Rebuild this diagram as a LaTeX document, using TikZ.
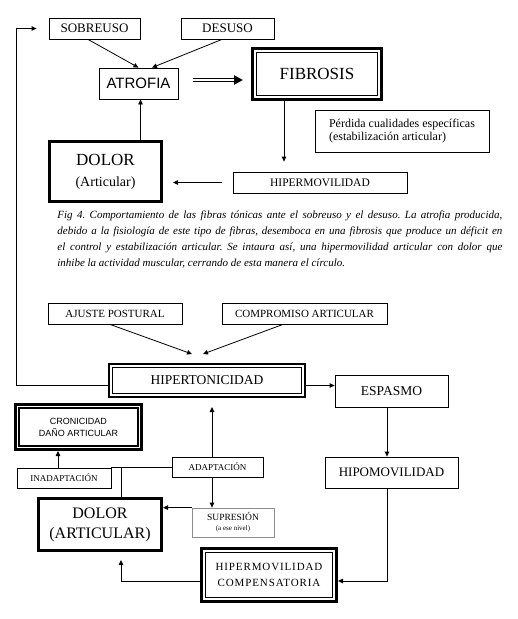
\documentclass[tikz,border=0pt]{standalone}
\usepackage{fontspec}
\setmainfont{Liberation Serif}
\setsansfont{Liberation Sans}
\newfontfamily\spacedfont[LetterSpace=8]{Liberation Serif}
\usetikzlibrary{arrows.meta}
\newcommand\sz[2]{\fontsize{#1}{#2}\selectfont}

\begin{document}
\begin{tikzpicture}[x=1pt,y=-1pt,>={Triangle[length=5pt,width=4.5pt]},
  line width=0.8pt,
  box/.style={draw,line width=0.8pt,inner sep=0pt,align=center},
  heavy/.style={box,line width=3pt},
  greybox/.style={box,draw=black!45}]

  \useasboundingbox (0,0) rectangle (518,619);

  % upper cycle
  \node[box,minimum width=91pt,minimum height=21pt,font=\sz{13}{15}] (sob) at (94.5,28.5) {SOBREUSO};
  \node[box,minimum width=93pt,minimum height=21pt,font=\sz{13}{15}] (des) at (227.5,28.5) {DESUSO};
  \node[box,minimum width=79pt,minimum height=31pt,font=\sffamily\sz{15}{17}] (atr) at (138.5,83.5) {ATROFIA};
  \node[heavy,minimum width=129pt,minimum height=51pt,font=\sz{17}{19}] (fib) at (317,74) {FIBROSIS};
  \node[box,minimum width=174pt,minimum height=42pt,align=left,font=\sz{12}{13.5}] (perd) at (402,131)
    {Pérdida cualidades específicas\\(estabilización articular)};
  \node[heavy,minimum width=112pt,minimum height=60pt,font=\sz{17}{21}] (dolA) at (105.5,171.5)
    {DOLOR\\{\sz{14}{21}(Articular)}};
  \node[box,minimum width=174pt,minimum height=21pt,font=\sz{11.5}{13}] (hipm) at (320,182.5) {HIPERMOVILIDAD};

  % caption
  \node[anchor=north west,inner sep=0pt,text width=445pt,align=justify,font=\frenchspacing\itshape\sz{11}{16}] (cap) at (57,210)
    {Fig 4. Comportamiento de las fibras tónicas ante el sobreuso y el desuso. La atrofia producida,\linebreak
     debido a la fisiología de este tipo de fibras, desemboca en una fibrosis que produce un déficit en\linebreak
     el control y estabilización articular. Se intaura así, una hipermovilidad articular con dolor que\linebreak
     inhibe la actividad muscular, cerrando de esta manera el círculo.};

  % lower cycle
  \node[box,minimum width=134pt,minimum height=21pt,font=\sz{11}{13}] (ajus) at (115,313.5) {AJUSTE POSTURAL};
  \node[box,minimum width=165pt,minimum height=21pt,font=\sz{11}{13}] (comp) at (304.5,313.5) {COMPROMISO ARTICULAR};
  \node[heavy,line width=2pt,minimum width=196pt,minimum height=33pt,font=\sz{13.5}{15}] (hipt) at (207,380.5) {HIPERTONICIDAD};
  \node[box,minimum width=113pt,minimum height=32pt,font=\sz{13.5}{15}] (esp) at (391.5,391) {ESPASMO};
  \node[heavy,minimum width=126pt,minimum height=45pt,font=\sffamily\sz{9}{12}] (cron) at (78.5,427)
    {CRONICIDAD\\DAÑO ARTICULAR};
  \node[box,minimum width=94pt,minimum height=20pt,font=\sz{9}{11}] (inad) at (64,478) {INADAPTACIÓN};
  \node[box,minimum width=91pt,minimum height=20pt,font=\sz{9}{11}] (adap) at (217.5,467) {ADAPTACIÓN};
  \node[greybox,minimum width=82pt,minimum height=29pt,font=\sz{9.5}{10}] (sup) at (233,522.5)
    {SUPRESIÓN\\{\sz{7}{10}(a ese nivel)}};
  \node[heavy,minimum width=123pt,minimum height=52pt,font=\sz{16}{20}] (dolB) at (100,524.5) {DOLOR\\(ARTICULAR)};
  \node[box,minimum width=133pt,minimum height=31pt,font=\sz{13}{15}] (hipo) at (391.5,472.5) {HIPOMOVILIDAD};
  \node[heavy,minimum width=135pt,minimum height=53pt,font=\spacedfont\sz{11}{16}] (hipc) at (269,575)
    {HIPERMOVILIDAD\\COMPENSATORIA};

  % inner lines of the framed boxes
  \foreach \n/\gap/\w in {fib/5.4/0.8,hipt/4.4/0.8,cron/5.2/1.6,hipc/5.4/0.8}
    \draw[line width=\w pt] ([shift={(\gap pt,-\gap pt)}]\n.north west) rectangle ([shift={(-\gap pt,\gap pt)}]\n.south east);

  % upper connectors
  \draw[->] ([xshift=-6.5pt]sob.south) -- (atr.north);
  \draw[->] ([xshift=-5.5pt]des.south) -- ([xshift=13.5pt]atr.north);
  % double arrow: thick line hollowed by a white one
  \draw[line width=3.4pt,-{Triangle[length=9pt,width=9pt]}]
    ([xshift=15pt,yshift=3.5pt]atr.east) -- ([xshift=-8pt,yshift=3.5pt]atr.east -| fib.west);
  \draw[white,line width=1.8pt,shorten >=9pt]
    ([xshift=14pt,yshift=3.5pt]atr.east) -- ([xshift=-8pt,yshift=3.5pt]atr.east -| fib.west);
  \draw[->] ([xshift=-33pt]fib.south) -- ([xshift=-33pt,yshift=10pt]fib.south |- hipm.north);
  \draw[->] ([xshift=-11pt]hipm.west) -- ([xshift=10pt]hipm.west -| dolA.east);
  \draw[->] ([xshift=2pt]atr.south |- dolA.north) -- ([xshift=2pt]atr.south);
  % back to the top
  \draw[->] ([yshift=-4.5pt]hipt.west) -| ([xshift=-32pt]sob.west) -- ([xshift=-12pt]sob.west);

  % lower connectors
  \draw[->] ([xshift=-5pt]ajus.south) -- ([xshift=-15pt,yshift=9pt]hipt.north);
  \draw[->] ([xshift=-21.5pt]comp.south) -- ([xshift=-4pt,yshift=9pt]hipt.north);
  \draw[->] ([yshift=-5pt]hipt.east) -- ([yshift=-5pt]hipt.east -| esp.west);
  \draw[->] ([xshift=-4.5pt]esp.south) -- ([xshift=-4.5pt]esp.south |- hipo.north);
  \draw[->] ([xshift=-4.5pt]hipo.south) |- ([yshift=-6pt]hipc.east);
  \draw[->] ([yshift=-6pt]hipc.west) -| ([xshift=21pt,yshift=-8pt]dolB.south);
  \draw[->] ([xshift=-5.5pt]adap.north) -- ([xshift=5pt,yshift=-9pt]hipt.south);
  \draw[->] ([xshift=-5.5pt]adap.south) -- ([xshift=-5.5pt]adap.south |- sup.north);
  \draw (adap.west) -- (adap.west -| inad.east);
  \draw ([xshift=21pt]dolB.north |- adap.west) -- ([xshift=21pt]dolB.north);
  \draw[->] ([xshift=-6pt]inad.north) -- ([xshift=-6pt]inad.north |- cron.south);
  \draw[->] (sup.north west) -- (sup.north west -| dolB.east);
\end{tikzpicture}
\end{document}
